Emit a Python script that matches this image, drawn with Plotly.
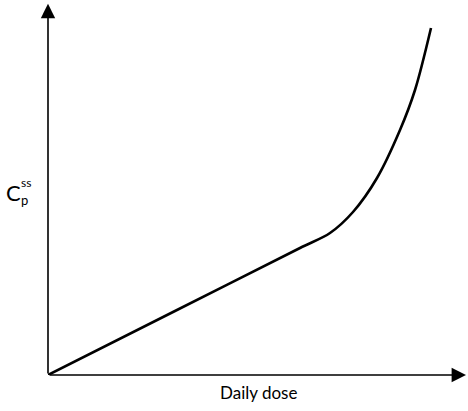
import plotly.graph_objects as go

# Curve values (arbitrary units)
dose = [0, 3.15, 6.3, 7.05, 7.625, 8.225, 8.8, 9.175, 9.575]
css = [0, 1.693, 3.387, 3.787, 4.347, 5.253, 6.533, 7.6, 9.253]

x_label = "Daily dose"
y_label_main = "C"
y_label_sup = "ss"
y_label_sub = "p"

fig = go.Figure()
fig.add_trace(go.Scatter(x=dose, y=css, mode="lines",
                         line=dict(color="black", width=2.6, shape="spline", smoothing=0.9),
                         hoverinfo="skip", showlegend=False))

FONT = "Lato, Noto Sans, sans-serif"
arrow_common = dict(showarrow=True, arrowhead=2, arrowsize=1.8, arrowwidth=1.6,
                    arrowcolor="black", text="", xref="x", yref="y", axref="x", ayref="y")
annotations = [
    dict(x=0, y=9.9, ax=0, ay=0, **arrow_common),
    dict(x=10.45, y=0, ax=0, ay=0, **arrow_common),
    dict(x=0.5, y=0, xref="paper", yref="paper", text=x_label, showarrow=False,
         yanchor="top", yshift=-5, font=dict(family=FONT, size=17, color="black")),
    dict(x=0, y=0.488, xref="paper", yref="paper", text=y_label_main, showarrow=False,
         borderpad=0, xanchor="left", yanchor="middle", xshift=-43,
         font=dict(family=FONT, size=22, color="black")),
    dict(x=0, y=0.491, xref="paper", yref="paper", text=y_label_sup, showarrow=False,
         borderpad=0, xanchor="left", yanchor="bottom", xshift=-28,
         font=dict(family=FONT, size=12, color="black")),
    dict(x=0, y=0.491, xref="paper", yref="paper", text=y_label_sub, showarrow=False,
         borderpad=0, xanchor="left", yanchor="top", xshift=-28,
         font=dict(family=FONT, size=13, color="black")),
]

fig.update_layout(
    width=468, height=411,
    margin=dict(l=48, r=0, t=0, b=36, autoexpand=False),
    paper_bgcolor="white", plot_bgcolor="white",
    xaxis=dict(range=[0, 10.5], visible=False, fixedrange=True),
    yaxis=dict(range=[0, 10], visible=False, fixedrange=True),
    annotations=annotations,
)
fig.write_html("out.html", config={"displayModeBar": False},
               post_script="document.body.style.margin='0';")
